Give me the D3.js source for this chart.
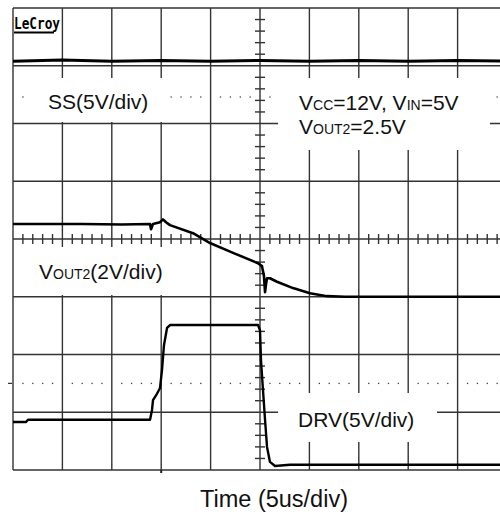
<!DOCTYPE html>
<html>
<head>
<meta charset="utf-8">
<script src="https://cdn.jsdelivr.net/npm/d3@7"></script>
<style>
  body { margin: 0; background: #fff; }
  svg { display: block; font-family: "Liberation Sans", Arial, sans-serif; }
</style>
</head>
<body>
<div id="chart"></div>
<script>
// time in us (5us/div, 0 = centre), level in screen divisions from centre
const ssTrace = [
  [-25, 3.08], [-20, 3.10], [-15, 3.08], [-10, 3.09], [-5, 3.08],
  [0, 3.09], [5, 3.08], [10, 3.09], [15, 3.08], [20, 3.09], [25, 3.08]
];
const voutTrace = [
  [-25, 0.26], [-18, 0.26], [-14, 0.25], [-11.13, 0.26], [-11.03, 0.17], [-10.83, 0.26],
  [-10.12, 0.29], [-9.82, 0.34], [-9.51, 0.29], [-9.11, 0.24], [-6.78, 0.10],
  [-5.06, -0.07], [-2.73, -0.24], [-0.20, -0.42], [0.20, -0.47], [0.40, -0.64],
  [0.51, -0.92], [0.61, -0.78], [0.71, -0.68], [1.01, -0.68], [1.72, -0.74],
  [3.34, -0.85], [5.06, -0.94], [6.78, -0.99], [8.6, -1.0], [25, -1.0]
];
const drvTrace = [
  [-25, -3.17], [-23.68, -3.17], [-23.48, -3.13], [-11.13, -3.13], [-10.93, -2.96],
  [-10.83, -2.79], [-10.43, -2.68], [-10.12, -2.58], [-9.92, -2.27], [-9.72, -1.84],
  [-9.41, -1.54], [-9.11, -1.49], [-0.20, -1.49], [0.0, -1.58], [0.10, -2.10],
  [0.30, -2.61], [0.51, -3.13], [0.71, -3.60], [1.01, -3.86], [1.52, -3.93],
  [3.04, -3.91], [25, -3.91]
];
const dottedLevels = [2.46, -2.5];
const xLabel = 'Time (5us/div)';

const width = 500, height = 515;
const svg = d3.select('#chart').append('svg')
  .attr('width', width).attr('height', height);

svg.append('rect').attr('width', width).attr('height', height).attr('fill', '#fff');

const x = d3.scaleLinear().domain([-25, 25]).range([13, 507]);
const y = d3.scaleLinear().domain([-4, 4]).range([470, 8]);

const grid = svg.append('g').attr('stroke', '#333').attr('stroke-width', 1.4);

// major grid
grid.selectAll('.vg').data(d3.range(-25, 26, 5)).join('line')
  .attr('x1', d => x(d)).attr('x2', d => x(d))
  .attr('y1', y(4)).attr('y2', y(-4));
grid.selectAll('.hg').data(d3.range(-4, 5, 1)).join('line')
  .attr('x1', x(-25)).attr('x2', x(25))
  .attr('y1', d => y(d)).attr('y2', d => y(d));

// centre axis minor ticks
grid.selectAll('.tx').data(d3.range(-25, 26, 1).filter(d => d % 5 !== 0)).join('line')
  .attr('x1', d => x(d)).attr('x2', d => x(d))
  .attr('y1', y(0) - 5).attr('y2', y(0) + 5);
grid.selectAll('.ty').data(d3.range(-20, 21, 1).filter(d => d % 5 !== 0).map(d => d / 5)).join('line')
  .attr('x1', x(0) - 5).attr('x2', x(0) + 5)
  .attr('y1', d => y(d)).attr('y2', d => y(d));

// dotted level lines
const dots = [];
dottedLevels.forEach(lv => {
  d3.range(-24, 26, 1).filter(d => d % 5 !== 0).forEach(t => dots.push([t, lv]));
});
svg.append('g').selectAll('rect').data(dots).join('rect')
  .attr('x', d => x(d[0]) - 0.6).attr('y', d => y(d[1]) - 0.6)
  .attr('width', 1.3).attr('height', 1.3).attr('fill', '#444');

// small markers outside frame
svg.append('line').attr('x1', 8).attr('x2', 12).attr('y1', y(-2.5)).attr('y2', y(-2.5))
  .attr('stroke', '#333').attr('stroke-width', 1.2);
svg.append('rect').attr('x', x(-10) - 1).attr('y', y(-4)).attr('width', 2).attr('height', 3).attr('fill', '#222');

// label boxes (white, covering the grid)
const boxes = [
  [26, 78, 144, 44], [278, 78, 212, 72], [14, 247, 158, 48], [278, 393, 159, 49]
];
svg.append('g').selectAll('rect').data(boxes).join('rect')
  .attr('x', d => d[0]).attr('y', d => d[1]).attr('width', d => d[2]).attr('height', d => d[3])
  .attr('fill', '#fff');

// traces
const line = d3.line().x(d => x(d[0])).y(d => y(d[1]));
const traces = svg.append('g').attr('fill', 'none').attr('stroke', '#000')
  .attr('stroke-linejoin', 'round');
traces.append('path').datum(ssTrace).attr('d', line).attr('stroke-width', 3);
traces.append('path').datum(voutTrace).attr('d', line).attr('stroke-width', 2.6);
traces.append('path').datum(drvTrace).attr('d', line).attr('stroke-width', 2.4);

// labels
const fs = 21, sc = 14;
const lbl = svg.append('g').attr('fill', '#111').attr('font-size', fs);
lbl.append('text').attr('x', 48).attr('y', 108.5).text('SS(5V/div)');

const t1 = lbl.append('text').attr('x', 299).attr('y', 109.5);
t1.append('tspan').text('V');
t1.append('tspan').attr('font-size', sc).text('CC');
t1.append('tspan').text('=12V, V');
t1.append('tspan').attr('font-size', sc).text('IN');
t1.append('tspan').text('=5V');
const t2 = lbl.append('text').attr('x', 299).attr('y', 133.5);
t2.append('tspan').text('V');
t2.append('tspan').attr('font-size', sc).text('OUT2');
t2.append('tspan').text('=2.5V');

const t3 = lbl.append('text').attr('x', 39).attr('y', 278.5);
t3.append('tspan').text('V');
t3.append('tspan').attr('font-size', sc).text('OUT2');
t3.append('tspan').text('(2V/div)');

lbl.append('text').attr('x', 298).attr('y', 427).text('DRV(5V/div)');

svg.append('text').attr('x', 274).attr('y', 506.5).attr('text-anchor', 'middle')
  .attr('font-size', 23.5).attr('fill', '#111').text(xLabel);

// LeCroy logo
svg.append('text').attr('x', 14).attr('y', 28.5)
  .attr('font-family', '"DejaVu Sans Mono", monospace').attr('font-weight', 'bold')
  .attr('font-size', 16).attr('textLength', 46).attr('lengthAdjust', 'spacingAndGlyphs')
  .text('LeCroy');
svg.append('line').attr('x1', 14).attr('x2', 54).attr('y1', 32.5).attr('y2', 32.5)
  .attr('stroke', '#000').attr('stroke-width', 1.8);
</script>
</body>
</html>
